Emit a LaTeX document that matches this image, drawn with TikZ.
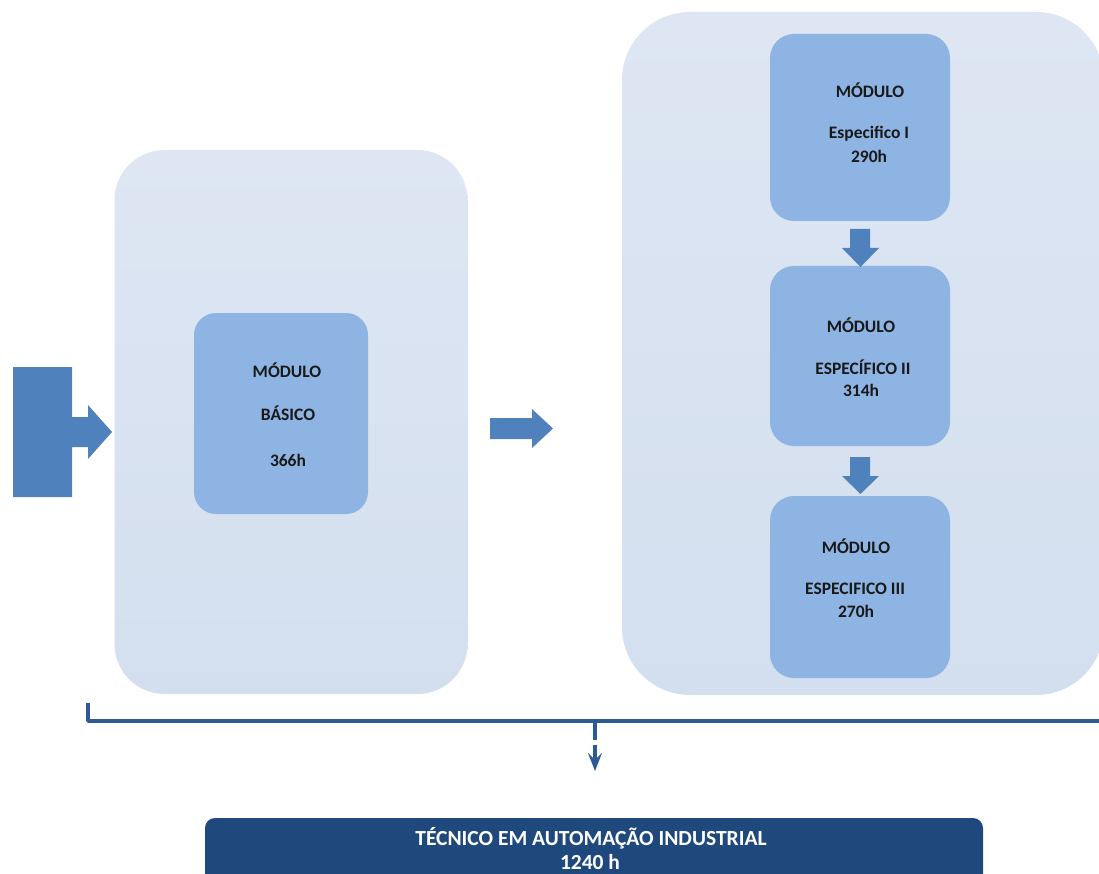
\documentclass[tikz,border=0pt]{standalone}
\usepackage{fontspec}
\setmainfont{Carlito}
\usetikzlibrary{arrows.meta}
\definecolor{panelTop}{HTML}{DEE6F3}
\definecolor{panelBot}{HTML}{D3DFEF}
\definecolor{boxblue}{HTML}{8EB4E3}
\definecolor{arrowblue}{HTML}{4F81BD}
\definecolor{linkblue}{HTML}{2D5A94}
\definecolor{barblue}{HTML}{1F497D}
\tikzset{
  panel/.style={rounded corners=#1, top color=panelTop, bottom color=panelBot, draw=none, inner sep=0pt},
  modbox/.style={rounded corners=24pt, fill=boxblue, draw=none, inner sep=0pt},
  lbl/.style={font=\fontsize{17.5}{20}\selectfont\bfseries, text=black!90, inner sep=0pt, anchor=base},
  barlbl/.style={font=\fontsize{21.5}{24}\selectfont\bfseries, text=white, inner sep=0pt, anchor=base},
  blockarrow/.style={fill=arrowblue, draw=none},
  bracket/.style={draw=linkblue, line width=3.6pt},
}
\begin{document}
\begin{tikzpicture}[x=1pt,y=-1pt]
\useasboundingbox (0,0) rectangle (1099,874);
% panels
\node[panel=50pt, minimum width=353pt, minimum height=544pt] (leftpanel) at (291,422) {};
\node[panel=68pt, minimum width=482pt, minimum height=683pt] (rightpanel) at (863,353.5) {};
% module boxes
\node[modbox, rounded corners=22pt, minimum width=174pt, minimum height=201pt] (basico) at (281,413.5) {};
\node[modbox, minimum width=180pt, minimum height=187pt] (esp1) at (860,127.5) {};
\node[modbox, minimum width=180pt, minimum height=180pt] (esp2) at (860,356) {};
\node[modbox, minimum width=180pt, minimum height=182pt] (esp3) at (860,587) {};
% texts
\node[lbl] (bt1) at (287,377) {MÓDULO};
\node[lbl] (bt2) at (288,420) {BÁSICO};
\node[lbl] (bt3) at (288,466) {366h};
\node[lbl] (e1t1) at (870,98) {MÓDULO};
\node[lbl] (e1t2) at (869,139) {Especifico I};
\node[lbl] (e1t3) at (869,163) {290h};
\node[lbl] (e2t1) at (861,332) {MÓDULO};
\node[lbl] (e2t2) at (863,374) {ESPECÍFICO II};
\node[lbl] (e2t3) at (861,396) {314h};
\node[lbl] (e3t1) at (856,553) {MÓDULO};
\node[lbl] (e3t2) at (855,594) {ESPECIFICO III};
\node[lbl] (e3t3) at (856,617) {270h};
% input arrow
\fill[blockarrow] (13,367) -- (72,367) -- (72,417) -- (88,417) -- (88,405) -- (112,432)
  -- (88,459) -- (88,447) -- (72,447) -- (72,497) -- (13,497) -- cycle;
% middle arrow
\fill[blockarrow] (490,418) -- (532,418) -- (532,409) -- (553,428.5) -- (532,448)
  -- (532,439) -- (490,439) -- cycle;
% down arrows
\fill[blockarrow] (850,229) -- (870,229) -- (870,248) -- (879,248) -- (860.5,267)
  -- (842,248) -- (850,248) -- cycle;
\fill[blockarrow] (850,457) -- (870,457) -- (870,476) -- (879,476) -- (860.5,494)
  -- (842,476) -- (850,476) -- cycle;
% bracket
\coordinate (brL) at (88,703);
\coordinate (brC) at (595,721);
\coordinate (brR) at (1102,721);
\coordinate (stemEnd) at (595,740);
\coordinate (arrStart) at (595,745);
\coordinate (arrEnd) at (595,771);
\draw[bracket, line join=round] (brL) -- (brL |- brC) -- (brR);
\draw[bracket] (brC) -- (stemEnd);
\draw[bracket, -{Stealth[length=18pt,width=14pt,inset=7pt]}] (arrStart) -- (arrEnd);
% bottom bar
\node[fill=barblue, rounded corners=10pt, minimum width=778pt, minimum height=70pt, inner sep=0pt] (bar) at (594,853) {};
\node[barlbl] (bar1) at (591,845) {TÉCNICO EM AUTOMAÇÃO INDUSTRIAL};
\node[barlbl] (bar2) at (590,869) {1240 h};
\end{tikzpicture}
\end{document}
